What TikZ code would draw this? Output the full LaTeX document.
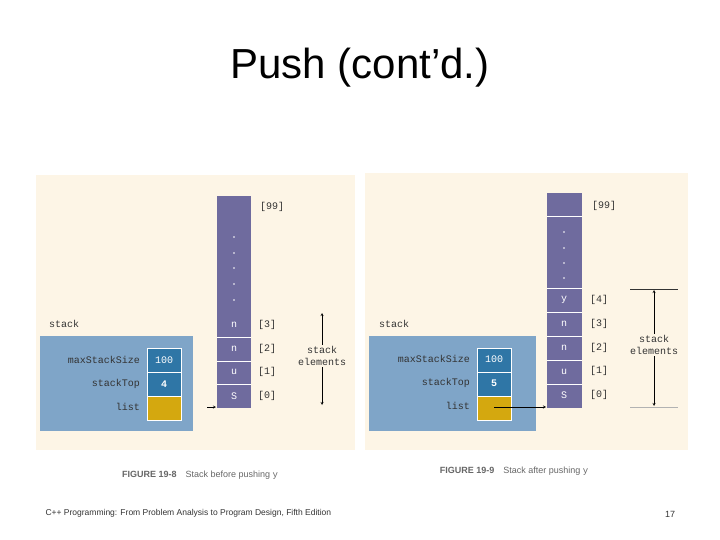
\documentclass[tikz,border=0pt]{standalone}
\usepackage{fontspec}
\setmainfont{Liberation Sans}
\setmonofont{Liberation Mono}
\usepackage{tikz}
\usetikzlibrary{arrows}
\definecolor{panel}{HTML}{FDF5E6}
\definecolor{outer}{HTML}{7FA5C8}
\definecolor{cell}{HTML}{2F76A6}
\definecolor{listc}{HTML}{D4A80F}
\definecolor{column}{HTML}{6F6B9E}
\tikzstyle{code} = [font=\ttfamily\fontsize{10}{12}\selectfont, text=black!80, inner sep=0pt]
\tikzstyle{wcode} = [font=\ttfamily\fontsize{10}{12}\selectfont, text=white, inner sep=0pt]
\tikzstyle{valcell} = [fill=cell, draw=white, line width=0.8pt]
\tikzstyle{arrow} = [->,>=stealth, thin]
\tikzstyle{caption} = [font=\fontsize{9}{11}\selectfont, text=black!60]
\begin{document}
\begin{tikzpicture}[x=1pt, y=-1pt]
\useasboundingbox (0,0) rectangle (720,540);

\node (title) at (360,68) {\fontsize{42}{48}\selectfont Push (cont'd.)};

% figure 19-8
\fill[panel] (36,175) rectangle (355,450);
\fill[outer] (40,336) rectangle (193,431);
\node (stackA) [code, anchor=west] at (49,324) {stack};
\draw[valcell] (147,348) rectangle (181,372);
\draw[valcell] (147,372) rectangle (181,396);
\draw[fill=listc, draw=white, line width=0.8pt] (147,396) rectangle (181,420);
\node (maxA) [code, anchor=east] at (140,360) {maxStackSize};
\node (topA) [code, anchor=east] at (140,384) {stackTop};
\node (listA) [code, anchor=east] at (140,407) {list};
\node (maxvA) [wcode] at (164,360) {100};
\node (topvA) [wcode] at (164,384) {\textbf{4}};
\fill[column] (217,196) rectangle (251,408);
\draw[white, line width=0.8pt] (217,337) -- (251,337) (217,361) -- (251,361) (217,384) -- (251,384);
\foreach \y in {237,253,268,284,300} \fill[white] (234,\y) circle (0.8);
\node (c3A) [wcode] at (234,325) {n};
\node (c2A) [wcode] at (234,349) {n};
\node (c1A) [wcode] at (234,372) {u};
\node (c0A) [wcode] at (234,396) {S};
\node (i99A) [code, anchor=west] at (260,207) {[99]};
\node (i3A) [code, anchor=west] at (258,325) {[3]};
\node (i2A) [code, anchor=west] at (258,349) {[2]};
\node (i1A) [code, anchor=west] at (258,372) {[1]};
\node (i0A) [code, anchor=west] at (258,396) {[0]};
\node (elemA) [code, align=center, fill=panel, inner sep=1pt] at (322,356) {stack\\elements};
\coordinate (upA) at (322,313);
\coordinate (dnA) at (322,405);
\draw[arrow] (elemA) -- (upA);
\draw[arrow] (elemA) -- (dnA);
\coordinate (ptrA) at (207,407);
\coordinate (tipA) at (216,407);
\draw[arrow] (ptrA) -- (tipA);
\node (capA) [caption] at (200,475) {\textbf{FIGURE 19-8}\quad Stack before pushing \texttt{y}};

% figure 19-9
\fill[panel] (365,173) rectangle (688,450);
\fill[outer] (369,336) rectangle (536,431);
\node (stackB) [code, anchor=west] at (379,324) {stack};
\draw[valcell] (477,348) rectangle (511,372);
\draw[valcell] (477,372) rectangle (511,396);
\draw[fill=listc, draw=white, line width=0.8pt] (477,396) rectangle (511,420);
\node (maxB) [code, anchor=east] at (470,359) {maxStackSize};
\node (topB) [code, anchor=east] at (470,383) {stackTop};
\node (listB) [code, anchor=east] at (470,406) {list};
\node (maxvB) [wcode] at (494,359) {100};
\node (topvB) [wcode] at (494,383) {\textbf{5}};
\fill[column] (547,193) rectangle (582,408);
\draw[white, line width=0.8pt] (547,216) -- (582,216) (547,288) -- (582,288) (547,312) -- (582,312)
  (547,336) -- (582,336) (547,360) -- (582,360) (547,384) -- (582,384);
\foreach \y in {232,248,263,278} \fill[white] (564,\y) circle (0.8);
\node (c4B) [wcode] at (564,300) {y};
\node (c3B) [wcode] at (564,324) {n};
\node (c2B) [wcode] at (564,348) {n};
\node (c1B) [wcode] at (564,372) {u};
\node (c0B) [wcode] at (564,395) {S};
\node (i99B) [code, anchor=west] at (592,206) {[99]};
\node (i4B) [code, anchor=west] at (590,300) {[4]};
\node (i3B) [code, anchor=west] at (590,324) {[3]};
\node (i2B) [code, anchor=west] at (590,348) {[2]};
\node (i1B) [code, anchor=west] at (590,371) {[1]};
\node (i0B) [code, anchor=west] at (590,395) {[0]};
\draw[black!80] (630,289) -- (678,289);
\draw[black!30] (630,407) -- (678,407);
\node (elemB) [code, align=center, fill=panel, inner sep=1pt] at (654,345) {stack\\elements};
\coordinate (upB) at (654,290);
\coordinate (dnB) at (654,406);
\draw[arrow] (elemB) -- (upB);
\draw[arrow] (elemB) -- (dnB);
\coordinate (ptrB) at (494,407);
\coordinate (tipB) at (546,407);
\draw[arrow] (ptrB) -- (tipB);
\node (capB) [caption] at (514,471) {\textbf{FIGURE 19-9}\quad Stack after pushing \texttt{y}};

\node (foot) [anchor=west, font=\fontsize{8.5}{10}\selectfont, text=black!80] at (42,513) {C++ Programming: From Problem Analysis to Program Design, Fifth Edition};
\node (page) [font=\fontsize{9}{10}\selectfont, text=black!80] at (670,514) {17};
\end{tikzpicture}
\end{document}
